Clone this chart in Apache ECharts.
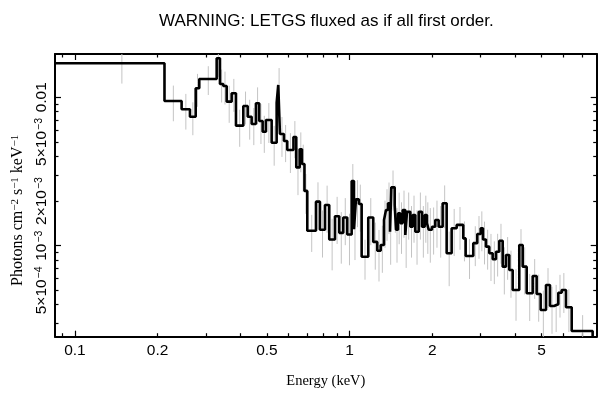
<!DOCTYPE html>
<html>
<head>
<meta charset="utf-8">
<script src="https://cdn.jsdelivr.net/npm/echarts@6/dist/echarts.min.js"></script>
<style>
html,body{margin:0;padding:0;background:#fff;}
#chart{width:608px;height:399px;}
</style>
</head>
<body>
<div id="chart"></div>
<script>
// Bin left edges (keV); last entry is the right edge of the last bin
const binEdges = [0.0846,0.2118,0.2445,0.2622,0.2751,0.2835,0.3280,0.3372,0.3467,0.3567,
  0.3719,0.3856,0.4101,0.4254,0.4398,0.4558,0.4686,0.4822,0.4958,0.5201,
  0.5423,0.5496,0.5575,0.5765,0.5927,0.6243,0.6392,0.6577,0.6705,0.6847,
  0.7010,0.7540,0.7796,0.8130,0.8427,0.8841,0.9166,0.9478,0.9801,1.0169,
  1.0368,1.0542,1.0810,1.1058,1.1687,1.2186,1.2603,1.2970,1.3336,1.3560,
  1.3790,1.4024,1.4177,1.4587,1.4746,1.4996,1.5289,1.5598,1.5943,1.6172,
  1.6626,1.6963,1.7338,1.7840,1.8340,1.8750,1.9116,1.9391,1.9934,2.0493,
  2.1086,2.1802,2.2547,2.3511,2.4517,2.5910,2.6440,2.8180,2.9143,2.9987,
  3.0571,3.1347,3.2225,3.3157,3.4087,3.5042,3.6058,3.7068,3.8107,3.9210,
  4.1440,4.2641,4.4092,4.6366,4.7942,4.9580,5.1840,5.3611,5.5435,5.7474,
  5.9127,6.1302,6.4310,7.6648,8.5];

// Flux per bin (photons cm^-2 s^-1 keV^-1)
const flux = [0.01694,0.00944,0.00830,0.00740,0.01150,0.01328,0.01831,0.01229,0.01191,0.00934,
  0.01064,0.00644,0.00874,0.00740,0.00661,0.00911,0.00692,0.00586,0.00703,0.00494,
  0.00920,0.01210,0.00566,0.00508,0.00441,0.00540,0.00337,0.00446,0.00355,0.00234,
  0.00126,0.00198,0.00128,0.00188,0.00110,0.00158,0.00122,0.00155,0.00119,0.00273,
  0.00129,0.00205,0.00191,0.000843,0.00155,0.00106,0.000925,0.00101,0.00149,0.00174,
  0.00193,0.00124,0.00247,0.00188,0.00128,0.00165,0.00142,0.00174,0.00118,0.00169,
  0.00134,0.00161,0.00124,0.00169,0.00134,0.00161,0.00142,0.00128,0.00134,0.00149,
  0.00134,0.00193,0.000889,0.00131,0.00138,0.00112,0.000852,0.00104,0.00120,0.00131,
  0.00110,0.000985,0.000889,0.000810,0.000911,0.00108,0.000722,0.000866,0.000686,0.000503,
  0.00101,0.000722,0.000478,0.000625,0.000473,0.000369,0.000543,0.000392,0.000403,0.000482,
  0.000503,0.000385,0.000266,0.00022];

// Relative 1-sigma error per bin
const relErr = [0.27,0.27,0.27,0.25,0.25,0.22,0.25,0.25,0.25,0.28,
  0.25,0.28,0.25,0.3,0.28,0.28,0.3,0.28,0.3,0.3,
  0.3,0.3,0.3,0.28,0.3,0.28,0.35,0.3,0.35,0.3,
  0.28,0.35,0.35,0.35,0.38,0.35,0.38,0.35,0.38,0.3,
  0.38,0.35,0.35,0.3,0.35,0.35,0.38,0.35,0.35,0.38,
  0.38,0.4,0.3,0.35,0.4,0.38,0.38,0.35,0.4,0.35,
  0.38,0.35,0.4,0.35,0.38,0.35,0.38,0.4,0.35,0.35,
  0.38,0.32,0.4,0.35,0.32,0.3,0.3,0.3,0.32,0.3,
  0.32,0.3,0.35,0.32,0.32,0.3,0.35,0.32,0.35,0.38,
  0.28,0.35,0.35,0.3,0.35,0.35,0.3,0.35,0.35,0.32,
  0.3,0.32,0.28,0.5];

const xTickValues = [0.1,0.2,0.5,1,2,5];
const xTickLabels = ['0.1','0.2','0.5','1','2','5'];
const xMajorTicks = [0.1,1];
const xMinorTicks = [0.09,0.2,0.3,0.4,0.5,0.6,0.7,0.8,0.9,2,3,4,5,6,7];
const yTickValues = [0.01,0.005,0.002,0.001,0.0005];
const yTickLabels = ['{b|0.01}','{b|5×10}{s|−3}','{b|2×10}{s|−3}','{b|10}{s|−3}','{b|5×10}{s|−4}'];
const yMajorTicks = [0.01,0.001];
const yMinorTicks = [0.009,0.008,0.007,0.006,0.005,0.004,0.003,0.002,0.0009,0.0008,0.0007,0.0006,0.0005,0.0004,0.0003];

const xMin = 0.0846, xMax = 7.93;
const yMin = 2.436e-4, yMax = 0.01957;

const SANS = '"Liberation Sans", Arial, Helvetica, sans-serif';
const SERIF = '"Liberation Serif", "Times New Roman", serif';
const LBL = 15.5;

function pickLabel(vals, labels, v){
  let best = 0, bd = Infinity;
  for (let i=0;i<vals.length;i++){
    const d = Math.abs(Math.log(vals[i]) - Math.log(v));
    if (d < bd){ bd = d; best = i; }
  }
  return bd < 0.01 ? labels[best] : '';
}

const stepData = binEdges.map((e,i)=>[e, flux[Math.min(i, flux.length-1)]]);
const errData = flux.map((v,i)=>{
  const c = (binEdges[i] + binEdges[i+1]) / 2;
  return [c, v*(1-relErr[i]), v*(1+relErr[i])];
});

function xAxisDef(pos, ticks, len, withLabel, showLine){
  return {
    type:'log', logBase:10, position:pos, min:xMin, max:xMax, gridIndex:0,
    axisLine:{show:showLine, onZero:false, lineStyle:{color:'#000', width:2}},
    axisTick:{show:true, inside:true, length:len, customValues:ticks, lineStyle:{color:'#000', width:1.2}},
    axisLabel: withLabel ? {show:true, customValues:xTickValues, margin:6, color:'#000', fontSize:LBL, fontFamily:SANS,
      formatter:(v)=>pickLabel(xTickValues, xTickLabels, v)} : {show:false},
    splitLine:{show:false}, minorTick:{show:false}, minorSplitLine:{show:false}
  };
}
function yAxisDef(pos, ticks, len, withLabel, showLine){
  return {
    type:'log', logBase:10, position:pos, min:yMin, max:yMax, gridIndex:0,
    axisLine:{show:showLine, onZero:false, lineStyle:{color:'#000', width:2}},
    axisTick:{show:true, inside:true, length:len, customValues:ticks, lineStyle:{color:'#000', width:1.2}},
    axisLabel: withLabel ? {show:true, customValues:yTickValues, rotate:90, margin:5, color:'#000', fontSize:LBL, fontFamily:SANS,
      formatter:(v)=>pickLabel(yTickValues, yTickLabels, v),
      rich:{b:{fontSize:LBL, fontFamily:SANS, color:'#000'}, s:{fontSize:10.5, fontFamily:SANS, color:'#000', verticalAlign:'top', padding:[0,0,0,1]}}} : {show:false},
    splitLine:{show:false}, minorTick:{show:false}, minorSplitLine:{show:false}
  };
}

const xAxes = [
  xAxisDef('bottom', xMajorTicks, 6, true, true),
  xAxisDef('bottom', xMinorTicks, 3.5, false, false),
  xAxisDef('top', xMajorTicks, 6, false, true),
  xAxisDef('top', xMinorTicks, 3.5, false, false)
];
Object.assign(xAxes[0], {name:'Energy (keV)', nameLocation:'middle', nameGap:37,
  nameTextStyle:{fontFamily:SERIF, fontSize:14.5, color:'#000'}});
const yAxes = [
  yAxisDef('left', yMajorTicks, 6, true, true),
  yAxisDef('left', yMinorTicks, 3.5, false, false),
  yAxisDef('right', yMajorTicks, 6, false, true),
  yAxisDef('right', yMinorTicks, 3.5, false, false)
];
Object.assign(yAxes[0], {
  name:'{a|Photons cm}{s|−2}{a| s}{s|−1}{a| keV}{s|−1}',
  nameLocation:'middle', nameGap:29,
  nameTextStyle:{fontFamily:SERIF, fontSize:16, color:'#000', padding:[0,30,0,0],
    rich:{a:{fontFamily:SERIF, fontSize:16, color:'#000'}, s:{fontFamily:SERIF, fontSize:11, color:'#000', verticalAlign:'top'}}}
});

const chart = echarts.init(document.getElementById('chart'), null, {renderer:'canvas'});
chart.setOption({
  animation:false,
  backgroundColor:'#fff',
  title:{text:'WARNING: LETGS fluxed as if all first order.', left:159, top:13, padding:0,
    textStyle:{fontFamily:SANS, fontSize:17, fontWeight:'normal', color:'#000'}},
  grid:{left:55, right:11.3, top:54, bottom:62.3, containLabel:false},
  xAxis:xAxes,
  yAxis:yAxes,
  series:[
    {type:'custom', xAxisIndex:0, yAxisIndex:0, clip:true, z:2, silent:true,
     data:errData,
     encode:{x:0, y:[1,2]},
     renderItem:function(params, api){
       const c = api.value(0), lo = api.value(1), hi = api.value(2);
       const p1 = api.coord([c, lo]), p2 = api.coord([c, hi]);
       return {type:'line', shape:{x1:p1[0], y1:p1[1], x2:p2[0], y2:p2[1]},
         style:{stroke:'#c4c4c4', lineWidth:1}};
     }},
    {type:'line', xAxisIndex:0, yAxisIndex:0, step:'end', data:stepData, symbol:'none', showSymbol:false,
     clip:true, z:3, silent:true, lineStyle:{color:'#000', width:2.6}}
  ]
});
</script>
</body>
</html>
